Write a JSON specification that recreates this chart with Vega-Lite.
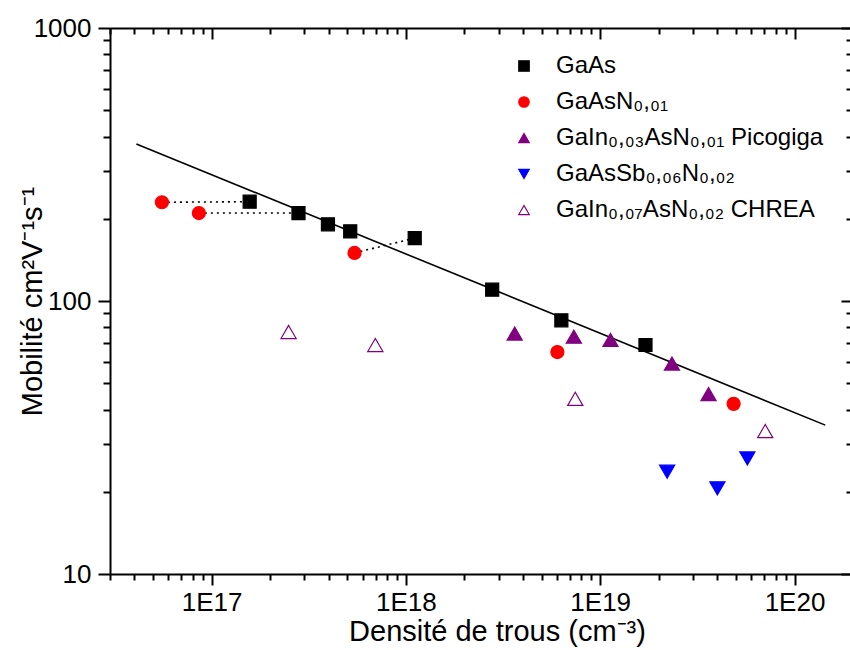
{
  "$schema": "https://vega.github.io/schema/vega-lite/v6.json",
  "width": 743,
  "height": 546,
  "autosize": {"type": "none"},
  "padding": {"left": 110, "top": 28, "right": 0, "bottom": 76},
  "background": "white",
  "config": {
    "view": {"stroke": null},
    "font": "Liberation Sans",
    "legend": {"symbolSize": 110, "symbolStrokeWidth": 1.2, "labelFontSize": 24, "labelFont": "Liberation Sans", "labelColor": "black", "labelLimit": 500, "labelOffset": 20, "rowPadding": 12}
  },
  "datasets": {
    "fit": [
      {"x": 4.1e16, "y": 376},
      {"x": 1.44e20, "y": 35.1}
    ],
    "conn": [
      {"g": "a", "x": 5.55e16, "y": 230},
      {"g": "a", "x": 1.57e17, "y": 231},
      {"g": "b", "x": 8.6e16, "y": 210},
      {"g": "b", "x": 2.8e17, "y": 210},
      {"g": "c", "x": 5.44e17, "y": 150},
      {"g": "c", "x": 1.11e18, "y": 170}
    ],
    "pts": [
      {"s": "GaAs", "x": 1.57e17, "y": 231},
      {"s": "GaAs", "x": 2.8e17, "y": 210},
      {"s": "GaAs", "x": 3.97e17, "y": 191},
      {"s": "GaAs", "x": 5.17e17, "y": 180},
      {"s": "GaAs", "x": 1.11e18, "y": 170},
      {"s": "GaAs", "x": 2.78e18, "y": 110},
      {"s": "GaAs", "x": 6.31e18, "y": 85},
      {"s": "GaAs", "x": 1.71e19, "y": 69},
      {"s": "GaAsN₀,₀₁", "x": 5.55e16, "y": 230},
      {"s": "GaAsN₀,₀₁", "x": 8.6e16, "y": 210},
      {"s": "GaAsN₀,₀₁", "x": 5.44e17, "y": 150},
      {"s": "GaAsN₀,₀₁", "x": 6.02e18, "y": 65},
      {"s": "GaAsN₀,₀₁", "x": 4.86e19, "y": 42},
      {"s": "GaIn₀,₀₃AsN₀,₀₁ Picogiga", "x": 3.63e18, "y": 76},
      {"s": "GaIn₀,₀₃AsN₀,₀₁ Picogiga", "x": 7.32e18, "y": 74},
      {"s": "GaIn₀,₀₃AsN₀,₀₁ Picogiga", "x": 1.13e19, "y": 72},
      {"s": "GaIn₀,₀₃AsN₀,₀₁ Picogiga", "x": 2.34e19, "y": 59},
      {"s": "GaIn₀,₀₃AsN₀,₀₁ Picogiga", "x": 3.61e19, "y": 45.6},
      {"s": "GaAsSb₀,₀₆N₀,₀₂", "x": 2.21e19, "y": 23.7},
      {"s": "GaAsSb₀,₀₆N₀,₀₂", "x": 4.01e19, "y": 20.6},
      {"s": "GaAsSb₀,₀₆N₀,₀₂", "x": 5.72e19, "y": 26.5},
      {"s": "GaIn₀,₀₇AsN₀,₀₂ CHREA", "x": 2.49e17, "y": 77},
      {"s": "GaIn₀,₀₇AsN₀,₀₂ CHREA", "x": 6.96e17, "y": 69},
      {"s": "GaIn₀,₀₇AsN₀,₀₂ CHREA", "x": 7.44e18, "y": 43.8},
      {"s": "GaIn₀,₀₇AsN₀,₀₂ CHREA", "x": 7.07e19, "y": 33.4}
    ]
  },
  "resolve": {"axis": {"x": "independent", "y": "independent"}},
  "layer": [
    {
      "data": {"name": "fit"},
      "mark": {"type": "line", "color": "black", "strokeWidth": 1.6},
      "encoding": {
        "x": {
          "field": "x", "type": "quantitative",
          "scale": {"type": "log", "domain": [3e16, 2e20], "nice": false},
          "axis": {
            "orient": "bottom", "grid": false,
            "values": [1e17, 1e18, 1e19, 1e20],
            "labelExpr": "'1E' + round(log(datum.value)/LN10)",
            "tickSize": 11, "tickWidth": 2, "tickColor": "black",
            "domainWidth": 2, "domainColor": "black",
            "labelFontSize": 26, "labelColor": "black", "labelFont": "Liberation Sans",
            "labelPadding": 4, "labelFlush": false, "labelOverlap": false,
            "title": "Densité de trous (cm⁻³)",
            "titleFontSize": 29, "titleFontWeight": "normal", "titleColor": "black",
            "titleFont": "Liberation Sans", "titlePadding": 2, "titleX": 387
          }
        },
        "y": {
          "field": "y", "type": "quantitative",
          "scale": {"type": "log", "domain": [10, 1000], "nice": false},
          "axis": {
            "orient": "left", "grid": false,
            "values": [10, 100, 1000], "format": "d",
            "tickSize": 12, "tickWidth": 2, "tickColor": "black",
            "domainWidth": 2, "domainColor": "black",
            "labelFontSize": 26, "labelColor": "black", "labelFont": "Liberation Sans",
            "labelPadding": 7, "labelFlush": false, "labelOverlap": false,
            "title": "Mobilité cm²V⁻¹s⁻¹",
            "titleFontSize": 29, "titleFontWeight": "normal", "titleColor": "black",
            "titleFont": "Liberation Sans", "titlePadding": -14
          }
        }
      }
    },
    {
      "data": {"name": "conn"},
      "mark": {"type": "line", "color": "black", "strokeWidth": 1.6, "strokeDash": [2, 4]},
      "encoding": {
        "detail": {"field": "g", "type": "nominal"},
        "x": {
          "field": "x", "type": "quantitative",
          "scale": {"type": "log", "domain": [3e16, 2e20], "nice": false},
          "axis": {
            "orient": "bottom", "grid": false, "domain": false, "labels": false, "title": null,
            "values": [3e16, 4e16, 5e16, 6e16, 7e16, 8e16, 9e16, 2e17, 3e17, 4e17, 5e17, 6e17, 7e17, 8e17, 9e17, 2e18, 3e18, 4e18, 5e18, 6e18, 7e18, 8e18, 9e18, 2e19, 3e19, 4e19, 5e19, 6e19, 7e19, 8e19, 9e19, 2e20],
            "tickSize": 6, "tickWidth": 2, "tickColor": "black"
          }
        },
        "y": {
          "field": "y", "type": "quantitative",
          "scale": {"type": "log", "domain": [10, 1000], "nice": false},
          "axis": {
            "orient": "left", "grid": false, "domain": false, "labels": false, "title": null,
            "values": [20, 30, 40, 50, 60, 70, 80, 90, 200, 300, 400, 500, 600, 700, 800, 900],
            "tickSize": 7, "tickWidth": 2, "tickColor": "black"
          }
        }
      }
    },
    {
      "data": {"name": "pts"},
      "transform": [{"filter": "datum.s == 'GaAs' || datum.s == 'GaAsN₀,₀₁'"}],
      "mark": {"type": "point", "opacity": 1, "strokeWidth": 1.2, "size": 170},
      "encoding": {
        "x": {
          "field": "x", "type": "quantitative",
          "scale": {"type": "log", "domain": [3e16, 2e20], "nice": false},
          "axis": {
            "orient": "top", "grid": false, "labels": false, "title": null,
            "values": [1e17, 1e18, 1e19, 1e20],
            "tickSize": -11, "tickWidth": 2, "tickColor": "black",
            "domainWidth": 2, "domainColor": "black"
          }
        },
        "y": {
          "field": "y", "type": "quantitative",
          "scale": {"type": "log", "domain": [10, 1000], "nice": false},
          "axis": {
            "orient": "right", "grid": false, "labels": false, "title": null,
            "values": [10, 100, 1000],
            "tickSize": -12, "tickWidth": 2, "tickColor": "black",
            "domainWidth": 2, "domainColor": "black"
          }
        },
        "shape": {
          "field": "s", "type": "nominal",
          "scale": {"domain": ["GaAs", "GaAsN₀,₀₁", "GaIn₀,₀₃AsN₀,₀₁ Picogiga", "GaAsSb₀,₀₆N₀,₀₂", "GaIn₀,₀₇AsN₀,₀₂ CHREA"], "range": ["square", "circle", "triangle-up", "triangle-down", "triangle-up"]},
          "legend": {"orient": "none", "legendX": 402, "legendY": 26, "title": null}
        },
        "fill": {
          "field": "s", "type": "nominal",
          "scale": {"domain": ["GaAs", "GaAsN₀,₀₁", "GaIn₀,₀₃AsN₀,₀₁ Picogiga", "GaAsSb₀,₀₆N₀,₀₂", "GaIn₀,₀₇AsN₀,₀₂ CHREA"], "range": ["#000000", "#ff0000", "#800080", "#0000ff", "#ffffff"]},
          "legend": {"orient": "none", "legendX": 402, "legendY": 26, "title": null}
        },
        "stroke": {
          "field": "s", "type": "nominal",
          "scale": {"domain": ["GaAs", "GaAsN₀,₀₁", "GaIn₀,₀₃AsN₀,₀₁ Picogiga", "GaAsSb₀,₀₆N₀,₀₂", "GaIn₀,₀₇AsN₀,₀₂ CHREA"], "range": ["#000000", "#ff0000", "#800080", "#0000ff", "#800080"]},
          "legend": {"orient": "none", "legendX": 402, "legendY": 26, "title": null}
        }
      }
    },
    {
      "data": {"name": "pts"},
      "transform": [{"filter": "datum.s != 'GaAs' && datum.s != 'GaAsN₀,₀₁'"}],
      "mark": {"type": "point", "opacity": 1, "strokeWidth": 1.2, "size": 230},
      "encoding": {
        "x": {
          "field": "x", "type": "quantitative",
          "scale": {"type": "log", "domain": [3e16, 2e20], "nice": false},
          "axis": {
            "orient": "top", "grid": false, "domain": false, "labels": false, "title": null,
            "values": [3e16, 4e16, 5e16, 6e16, 7e16, 8e16, 9e16, 2e17, 3e17, 4e17, 5e17, 6e17, 7e17, 8e17, 9e17, 2e18, 3e18, 4e18, 5e18, 6e18, 7e18, 8e18, 9e18, 2e19, 3e19, 4e19, 5e19, 6e19, 7e19, 8e19, 9e19, 2e20],
            "tickSize": -6, "tickWidth": 2, "tickColor": "black"
          }
        },
        "y": {
          "field": "y", "type": "quantitative",
          "scale": {"type": "log", "domain": [10, 1000], "nice": false},
          "axis": {
            "orient": "right", "grid": false, "domain": false, "labels": false, "title": null,
            "values": [20, 30, 40, 50, 60, 70, 80, 90, 200, 300, 400, 500, 600, 700, 800, 900],
            "tickSize": -7, "tickWidth": 2, "tickColor": "black"
          }
        },
        "shape": {
          "field": "s", "type": "nominal",
          "scale": {"domain": ["GaAs", "GaAsN₀,₀₁", "GaIn₀,₀₃AsN₀,₀₁ Picogiga", "GaAsSb₀,₀₆N₀,₀₂", "GaIn₀,₀₇AsN₀,₀₂ CHREA"], "range": ["square", "circle", "triangle-up", "triangle-down", "triangle-up"]},
          "legend": {"orient": "none", "legendX": 402, "legendY": 26, "title": null}
        },
        "fill": {
          "field": "s", "type": "nominal",
          "scale": {"domain": ["GaAs", "GaAsN₀,₀₁", "GaIn₀,₀₃AsN₀,₀₁ Picogiga", "GaAsSb₀,₀₆N₀,₀₂", "GaIn₀,₀₇AsN₀,₀₂ CHREA"], "range": ["#000000", "#ff0000", "#800080", "#0000ff", "#ffffff"]},
          "legend": {"orient": "none", "legendX": 402, "legendY": 26, "title": null}
        },
        "stroke": {
          "field": "s", "type": "nominal",
          "scale": {"domain": ["GaAs", "GaAsN₀,₀₁", "GaIn₀,₀₃AsN₀,₀₁ Picogiga", "GaAsSb₀,₀₆N₀,₀₂", "GaIn₀,₀₇AsN₀,₀₂ CHREA"], "range": ["#000000", "#ff0000", "#800080", "#0000ff", "#800080"]},
          "legend": {"orient": "none", "legendX": 402, "legendY": 26, "title": null}
        }
      }
    }
  ]
}
